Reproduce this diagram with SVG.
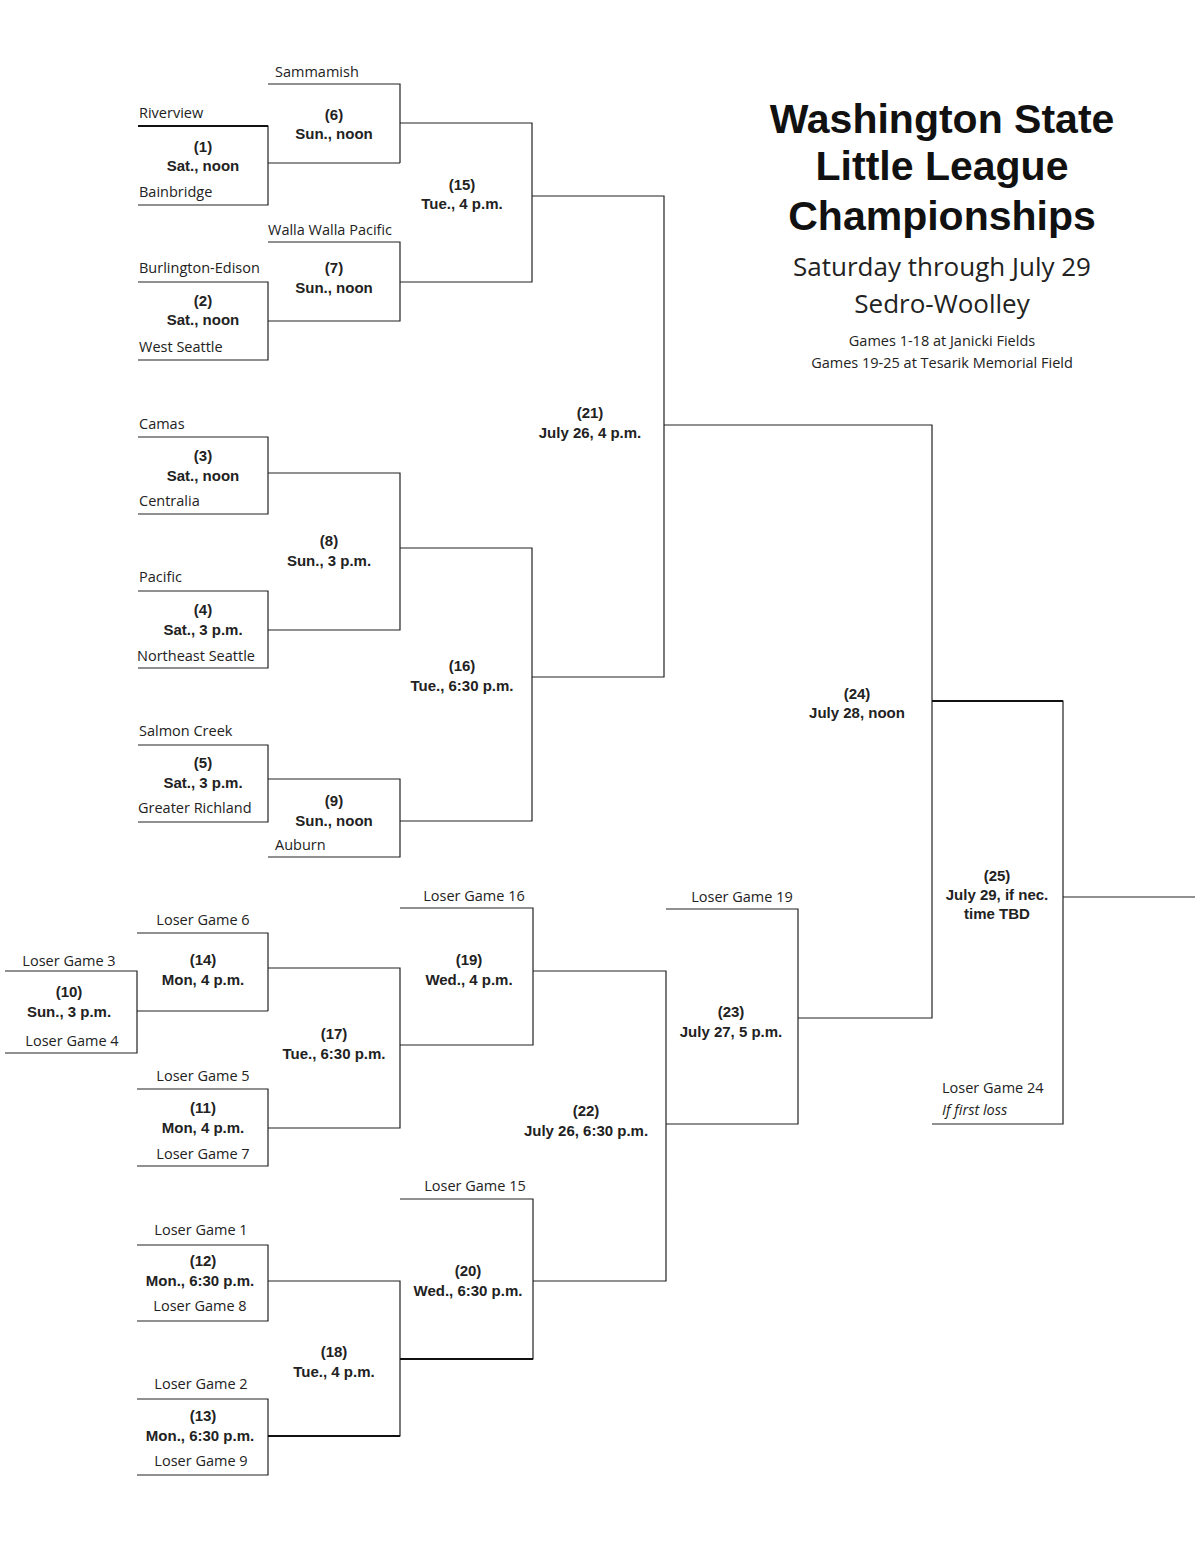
<svg xmlns="http://www.w3.org/2000/svg" width="1200" height="1554" viewBox="0 0 1200 1554">
<style>
.l{stroke:#222;stroke-width:1.2;fill:none}
.t{font-family:"Open Sans","Noto Sans",sans-serif;font-size:14.5px;fill:#222}
.c{text-anchor:middle}
.g{font-family:"Liberation Sans",Arial,sans-serif;font-weight:bold;font-size:15px;fill:#222;text-anchor:middle}
.h{font-family:"Liberation Sans",Arial,sans-serif;font-weight:bold;font-size:41px;fill:#111;text-anchor:middle}
.s{font-family:"Open Sans","Noto Sans",sans-serif;fill:#222;text-anchor:middle}
</style>
<rect width="1200" height="1554" fill="#fff"/>
<g id="connectors">
<path class="l" d="M138 126H268V205H138M268 163H400M268 84H400V163M400 123H532V282H400M268 242H400V321H268M138 282H268V360H138M532 196H664V677H532M664 425H932V1018H798M932 701H1063V1124H932M1063 897H1195"/>
<path class="l" d="M138 437H268V514H138M268 473H400V630H268M138 591H268V668H138M400 548H532V821H400M138 745H268V822H138M268 779H400V857H268"/>
<path class="l" d="M5 971H137V1053H5M137 1011H268M137 933H268V1011M268 968H400V1128H268M137 1089H268V1166H137M400 1045H533V908H400M533 971H666V1281H533M400 1199H533V1359H400M137 1245H268V1321H137M268 1281H400V1436H268M137 1399H268V1475H137M666 1124H798V909H666"/>
<path d="M138 126H268M932 701H1063M268 1436H400M400 1359H533" stroke="#111" stroke-width="2" fill="none"/>
</g>
<g id="title">
<text class="h" x="942" y="133">Washington State</text>
<text class="h" x="942" y="180">Little League</text>
<text class="h" x="942" y="230">Championships</text>
<text class="s" x="942" y="276" font-size="26">Saturday through July 29</text>
<text class="s" x="942" y="313" font-size="26">Sedro-Woolley</text>
<text class="s" x="942" y="346" font-size="14.5">Games 1-18 at Janicki Fields</text>
<text class="s" x="942" y="368" font-size="14.5">Games 19-25 at Tesarik Memorial Field</text>
</g>
<g id="teams">
<text class="t" x="139" y="118">Riverview</text>
<text class="t" x="139" y="197">Bainbridge</text>
<text class="t" x="139" y="273">Burlington-Edison</text>
<text class="t" x="139" y="352">West Seattle</text>
<text class="t" x="139" y="429">Camas</text>
<text class="t" x="139" y="506">Centralia</text>
<text class="t" x="139" y="582">Pacific</text>
<text class="t" x="137" y="661">Northeast Seattle</text>
<text class="t" x="139" y="736">Salmon Creek</text>
<text class="t" x="138" y="813">Greater Richland</text>
<text class="t" x="275" y="77">Sammamish</text>
<text class="t" x="268" y="235">Walla Walla Pacific</text>
<text class="t" x="275" y="850">Auburn</text>
<text class="t c" x="203" y="925">Loser Game 6</text>
<text class="t c" x="69" y="966">Loser Game 3</text>
<text class="t c" x="72" y="1046">Loser Game 4</text>
<text class="t c" x="203" y="1081">Loser Game 5</text>
<text class="t c" x="203" y="1159">Loser Game 7</text>
<text class="t c" x="474" y="901">Loser Game 16</text>
<text class="t c" x="742" y="902">Loser Game 19</text>
<text class="t c" x="201" y="1235">Loser Game 1</text>
<text class="t c" x="200" y="1311">Loser Game 8</text>
<text class="t c" x="475" y="1191">Loser Game 15</text>
<text class="t c" x="201" y="1389">Loser Game 2</text>
<text class="t c" x="201" y="1466">Loser Game 9</text>
<text class="t" x="942" y="1093">Loser Game 24</text>
<text class="t" x="942" y="1115" font-style="italic">If first loss</text>
</g>
<g id="g1"><text class="g" x="203" y="152">(1)</text><text class="g" x="203" y="171">Sat., noon</text></g>
<g id="g2"><text class="g" x="203" y="306">(2)</text><text class="g" x="203" y="325">Sat., noon</text></g>
<g id="g3"><text class="g" x="203" y="461">(3)</text><text class="g" x="203" y="481">Sat., noon</text></g>
<g id="g4"><text class="g" x="203" y="615">(4)</text><text class="g" x="203" y="635">Sat., 3 p.m.</text></g>
<g id="g5"><text class="g" x="203" y="768">(5)</text><text class="g" x="203" y="788">Sat., 3 p.m.</text></g>
<g id="g6"><text class="g" x="334" y="120">(6)</text><text class="g" x="334" y="139">Sun., noon</text></g>
<g id="g7"><text class="g" x="334" y="273">(7)</text><text class="g" x="334" y="293">Sun., noon</text></g>
<g id="g8"><text class="g" x="329" y="546">(8)</text><text class="g" x="329" y="566">Sun., 3 p.m.</text></g>
<g id="g9"><text class="g" x="334" y="806">(9)</text><text class="g" x="334" y="826">Sun., noon</text></g>
<g id="g10"><text class="g" x="69" y="997">(10)</text><text class="g" x="69" y="1017">Sun., 3 p.m.</text></g>
<g id="g11"><text class="g" x="203" y="1113">(11)</text><text class="g" x="203" y="1133">Mon, 4 p.m.</text></g>
<g id="g12"><text class="g" x="203" y="1266">(12)</text><text class="g" x="200" y="1286">Mon., 6:30 p.m.</text></g>
<g id="g13"><text class="g" x="203" y="1421">(13)</text><text class="g" x="200" y="1441">Mon., 6:30 p.m.</text></g>
<g id="g14"><text class="g" x="203" y="965">(14)</text><text class="g" x="203" y="985">Mon, 4 p.m.</text></g>
<g id="g15"><text class="g" x="462" y="190">(15)</text><text class="g" x="462" y="209">Tue., 4 p.m.</text></g>
<g id="g16"><text class="g" x="462" y="671">(16)</text><text class="g" x="462" y="691">Tue., 6:30 p.m.</text></g>
<g id="g17"><text class="g" x="334" y="1039">(17)</text><text class="g" x="334" y="1059">Tue., 6:30 p.m.</text></g>
<g id="g18"><text class="g" x="334" y="1357">(18)</text><text class="g" x="334" y="1377">Tue., 4 p.m.</text></g>
<g id="g19"><text class="g" x="469" y="965">(19)</text><text class="g" x="469" y="985">Wed., 4 p.m.</text></g>
<g id="g20"><text class="g" x="468" y="1276">(20)</text><text class="g" x="468" y="1296">Wed., 6:30 p.m.</text></g>
<g id="g21"><text class="g" x="590" y="418">(21)</text><text class="g" x="590" y="438">July 26, 4 p.m.</text></g>
<g id="g22"><text class="g" x="586" y="1116">(22)</text><text class="g" x="586" y="1136">July 26, 6:30 p.m.</text></g>
<g id="g23"><text class="g" x="731" y="1017">(23)</text><text class="g" x="731" y="1037">July 27, 5 p.m.</text></g>
<g id="g24"><text class="g" x="857" y="699">(24)</text><text class="g" x="857" y="718">July 28, noon</text></g>
<g id="g25"><text class="g" x="997" y="881">(25)</text><text class="g" x="997" y="900">July 29, if nec.</text><text class="g" x="997" y="919">time TBD</text></g>
</svg>
